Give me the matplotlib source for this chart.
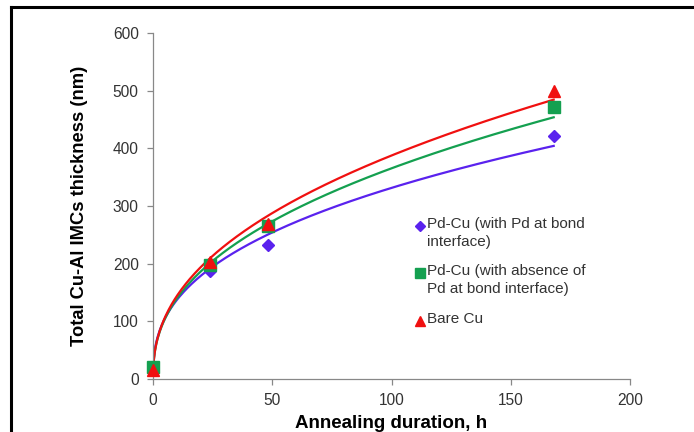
import numpy as np
import matplotlib.pyplot as plt
from matplotlib.lines import Line2D

plt.rcParams['font.family'] = ['Liberation Sans', 'DejaVu Sans']

# measured points
hours = [0, 24, 48, 168]
pd_with = [20, 187, 232, 422]
pd_absent = [20, 197, 265, 472]
bare_cu = [15, 203, 268, 500]

# power trend lines (y = a * t^n)
trend_a = [56.8, 53.3, 53.5]
trend_n = [0.383, 0.418, 0.43]
trend_start, trend_end = 0.25, 168

labels = ['Pd-Cu (with Pd at bond\ninterface)',
          'Pd-Cu (with absence of\nPd at bond interface)',
          'Bare Cu']
colors = ['#5a22ee', '#14a050', '#f01010']
markers = ['D', 's', '^']
msizes = [6, 8, 8]

fig = plt.figure(figsize=(6.94, 4.32), dpi=100)
ax = fig.add_axes((0.2205, 0.1227, 0.6873, 0.8009))

# frame around the figure (cut off on the right and bottom)
fig.add_artist(Line2D([11/694, 11/694], [0, 1 - 7/432], color='black', lw=2.2,
                      transform=fig.transFigure))
fig.add_artist(Line2D([11/694, 1], [1 - 7/432, 1 - 7/432], color='black', lw=2.2,
                      transform=fig.transFigure))

t = np.linspace(trend_start, trend_end, 400)
series = [pd_with, pd_absent, bare_cu]
for a, n, c in zip(trend_a, trend_n, colors):
    ax.plot(t, a * t ** n, color=c, lw=1.6, zorder=2)
for ys, c, m, ms, lab in zip(series, colors, markers, msizes, labels):
    ax.plot(hours, ys, linestyle='none', marker=m, markersize=ms, color=c,
            label=lab, zorder=3, clip_on=False)

ax.set_xlim(0, 200)
ax.set_ylim(0, 600)
ax.set_xticks([0, 50, 100, 150, 200])
ax.set_yticks(range(0, 601, 100))
for s in ['top', 'right']:
    ax.spines[s].set_visible(False)
for s in ['left', 'bottom']:
    ax.spines[s].set_color('#888888')
    ax.spines[s].set_linewidth(0.9)
ax.tick_params(colors='#888888', labelcolor='#333333', labelsize=11.2,
               length=4.3, width=0.9, direction='out', pad=6)

ax.set_xlabel('Annealing duration, h', fontsize=13.5, fontweight='bold',
              labelpad=5)
ax.set_ylabel('Total Cu-Al IMCs thickness (nm)', fontsize=13.2,
              fontweight='bold', labelpad=18)

# legend: marker next to the first line of each entry
leg_x, leg_tx = 0.560, 0.574
leg_y = [0.442, 0.306, 0.168]
for y, c, m, ms, lab in zip(leg_y, colors, markers, msizes, labels):
    ax.plot([leg_x], [y], ls='none', marker=m, color=c, markersize=ms * 0.85,
            transform=ax.transAxes, clip_on=False)
    ax.text(leg_tx, y + 0.026, lab, transform=ax.transAxes, fontsize=11,
            color='#333333', va='top', ha='left', linespacing=1.32)

fig.savefig('out.png', dpi=100)
